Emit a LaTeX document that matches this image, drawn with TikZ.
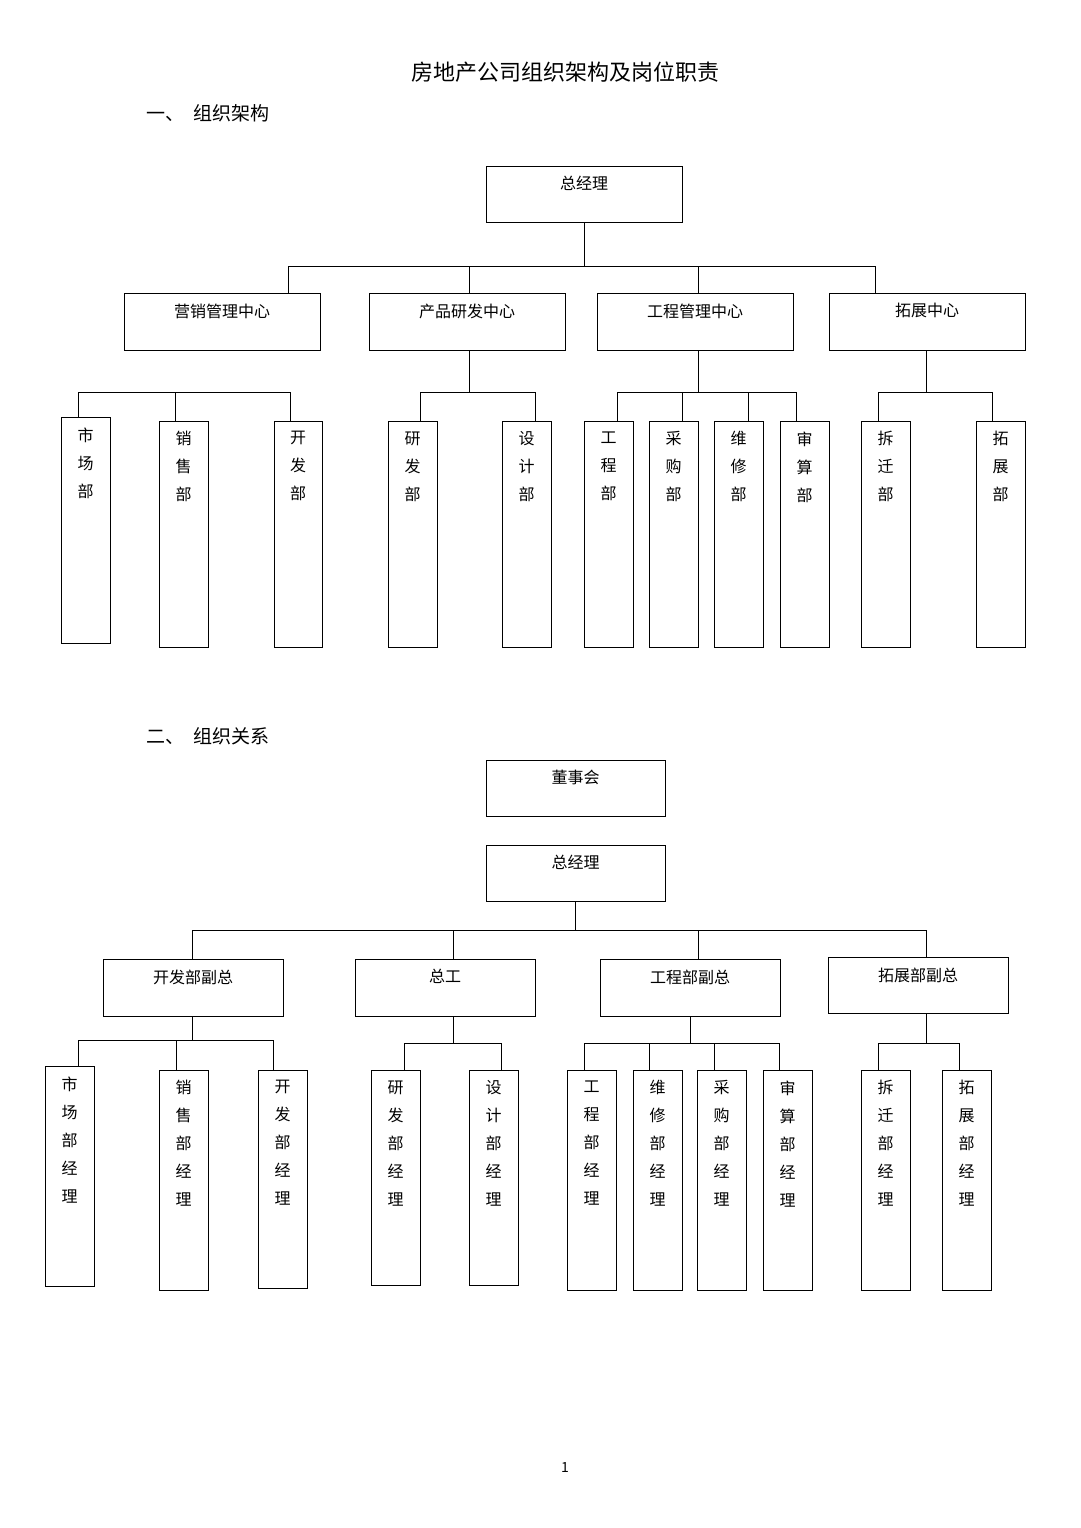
\documentclass[tikz,border=0pt]{standalone}
\usepackage{fontspec}
\setmainfont{Noto Sans CJK SC}
\newcommand\mybox[6]{%
  \node[draw,line width=1pt,inner sep=0pt,minimum width={(#4-#2)*1pt},minimum height={(#5-#3)*1pt}] (#1) at ({(#2+#4)/2},{(#3+#5)/2}) {};
  \node[anchor=north,align=center,font=\fontsize{16}{28}\selectfont,inner sep=0pt] (#1t) at ({(#2+#4)/2},{#3+10}) {#6};}
\begin{document}
\begin{tikzpicture}[x=1pt,y=-1pt,line width=1pt]
\useasboundingbox (0,0) rectangle (1080,1528);
\node[font=\fontsize{22}{26}\selectfont] (title) at (565,72) {房地产公司组织架构及岗位职责};
\node[anchor=west,font=\fontsize{19}{22}\selectfont] (s1) at (143,113) {一、\ \ 组织架构};
\node[anchor=west,font=\fontsize{19}{22}\selectfont] (s2) at (143,736) {二、\ \ 组织关系};
\node[font=\fontsize{14}{16}\selectfont] (pg) at (565,1467) {1};
% part 1
\mybox{gm}{486}{166}{682}{222}{总经理}
\mybox{yx}{124}{293}{320}{350}{营销管理中心}
\mybox{cp}{369}{293}{565}{350}{产品研发中心}
\mybox{gc}{597}{293}{793}{350}{工程管理中心}
\mybox{tz}{829}{293}{1025}{350}{拓展中心}
\draw (584,222)--(584,266) (288,293)--(288,266)--(875,266)--(875,293) (469,266)--(469,293) (698,266)--(698,293);
\mybox{a1}{61}{417}{110}{643}{市\\场\\部}
\mybox{a2}{159}{421}{208}{647}{销\\售\\部}
\mybox{a3}{274}{421}{322}{647}{开\\发\\部}
\draw (78,417)--(78,392)--(290,392)--(290,421) (175,392)--(175,421);
\mybox{b1}{388}{421}{437}{647}{研\\发\\部}
\mybox{b2}{502}{421}{551}{647}{设\\计\\部}
\draw (469,350)--(469,392) (420,421)--(420,392)--(535,392)--(535,421);
\mybox{c1}{584}{421}{633}{647}{工\\程\\部}
\mybox{c2}{649}{421}{698}{647}{采\\购\\部}
\mybox{c3}{714}{421}{763}{647}{维\\修\\部}
\mybox{c4}{780}{421}{829}{647}{审\\算\\部}
\draw (698,350)--(698,392) (617,421)--(617,392)--(796,392)--(796,421) (682,392)--(682,421) (748,392)--(748,421);
\mybox{d1}{861}{421}{910}{647}{拆\\迁\\部}
\mybox{d2}{976}{421}{1025}{647}{拓\\展\\部}
\draw (926,350)--(926,392) (878,421)--(878,392)--(992,392)--(992,421);
% part 2
\mybox{dsh}{486}{760}{665}{816}{董事会}
\mybox{zj}{486}{845}{665}{901}{总经理}
\mybox{kf}{103}{959}{283}{1016}{开发部副总}
\mybox{zg}{355}{959}{535}{1016}{总工}
\mybox{gcf}{600}{959}{780}{1016}{工程部副总}
\mybox{tzf}{828}{957}{1008}{1013}{拓展部副总}
\draw (575,901)--(575,930) (192,959)--(192,930)--(926,930)--(926,957) (453,930)--(453,959) (698,930)--(698,959);
\mybox{e1}{45}{1066}{94}{1286}{市\\场\\部\\经\\理}
\mybox{e2}{159}{1070}{208}{1290}{销\\售\\部\\经\\理}
\mybox{e3}{258}{1070}{307}{1288}{开\\发\\部\\经\\理}
\draw (192,1016)--(192,1040) (78,1066)--(78,1040)--(273,1040)--(273,1070) (176,1040)--(176,1070);
\mybox{f1}{371}{1070}{420}{1285}{研\\发\\部\\经\\理}
\mybox{f2}{469}{1070}{518}{1285}{设\\计\\部\\经\\理}
\draw (453,1016)--(453,1043) (404,1070)--(404,1043)--(501,1043)--(501,1070);
\mybox{g1}{567}{1070}{616}{1290}{工\\程\\部\\经\\理}
\mybox{g2}{633}{1070}{682}{1290}{维\\修\\部\\经\\理}
\mybox{g3}{697}{1070}{746}{1290}{采\\购\\部\\经\\理}
\mybox{g4}{763}{1070}{812}{1290}{审\\算\\部\\经\\理}
\draw (690,1016)--(690,1043) (584,1070)--(584,1043)--(779,1043)--(779,1070) (649,1043)--(649,1070) (714,1043)--(714,1070);
\mybox{h1}{861}{1070}{910}{1290}{拆\\迁\\部\\经\\理}
\mybox{h2}{942}{1070}{991}{1290}{拓\\展\\部\\经\\理}
\draw (926,1013)--(926,1043) (878,1070)--(878,1043)--(959,1043)--(959,1070);
\end{tikzpicture}
\end{document}
